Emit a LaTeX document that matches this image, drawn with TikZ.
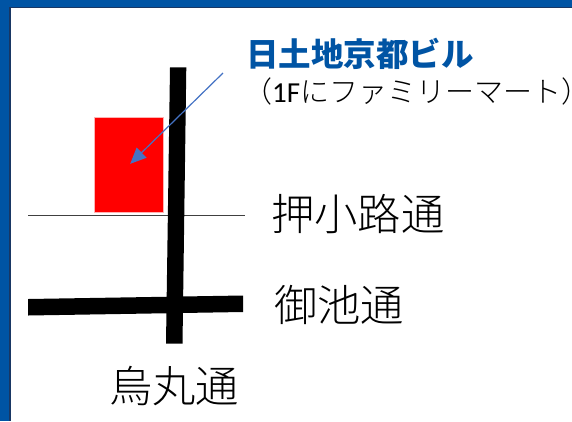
\documentclass[tikz,border=0pt]{standalone}
\usepackage{fontspec}
\newfontfamily\cjk{Noto Sans CJK JP}
\newfontfamily\cjklight{Noto Sans CJK JP Light}
\newfontfamily\cjkhalt[RawFeature=+halt]{Noto Sans CJK JP Light}
\newfontfamily\latinf{Carlito}
\definecolor{frameblue}{RGB}{0,84,164}
\definecolor{framedark}{RGB}{25,55,100}
\definecolor{arrowblue}{RGB}{68,114,196}
\usetikzlibrary{arrows.meta}
\tikzset{
  road/.style={fill=black,draw=none},
  roadlabel/.style={inner sep=0pt,anchor=west,text=black,font=\cjklight\fontsize{43.3}{43.3}\selectfont},
}
\begin{document}
\begin{tikzpicture}[x=1pt,y=-1pt]
\useasboundingbox (0,0) rectangle (572,421);
\fill[white] (0,0) rectangle (572,421);
\fill[framedark] (0,0) rectangle (572,8.3);
\fill[framedark] (0,0) rectangle (11.3,421);
\fill[frameblue] (0,0) rectangle (572,6.5);
\fill[frameblue] (0,0) rectangle (9,421);
\fill[red,draw=red!30!white,line width=0.4pt] (94.3,116.7) rectangle (163.5,212.3);
\draw[black!75,line width=1pt] (28.3,215.3) -- (245,215.3);
\fill[road] (170,67.3) -- (186.3,67.3) -- (182.5,343.7) -- (166,343.7) -- cycle;
\fill[road] (28,299) -- (243,295.5) -- (243,312) -- (28,315.5) -- cycle;
\coordinate (arrowstart) at (223,73);
\node[inner sep=0pt] (arrowend) at (129.5,164.5) {};
\draw[arrowblue,line width=1.2pt,-{Triangle[length=16pt,width=14pt]}] (arrowstart) -- (arrowend);
\node[inner sep=0pt,anchor=west,text=frameblue,font=\cjk\bfseries\fontsize{32.5}{32.5}\selectfont] (bldg) at (246,53.5) {日土地京都ビル};
\node[inner sep=0pt,anchor=west,font=\fontsize{29}{29}\selectfont] (sub) at (243,91) {\cjklight （\latinf 1F\cjklight にファミリーマート\cjkhalt ）};
\node[roadlabel] (oshi) at (271,214) {押小路通};
\node[roadlabel] (oike) at (274,305) {御池通};
\node[roadlabel] (kara) at (109,386) {烏丸通};
\end{tikzpicture}
\end{document}
